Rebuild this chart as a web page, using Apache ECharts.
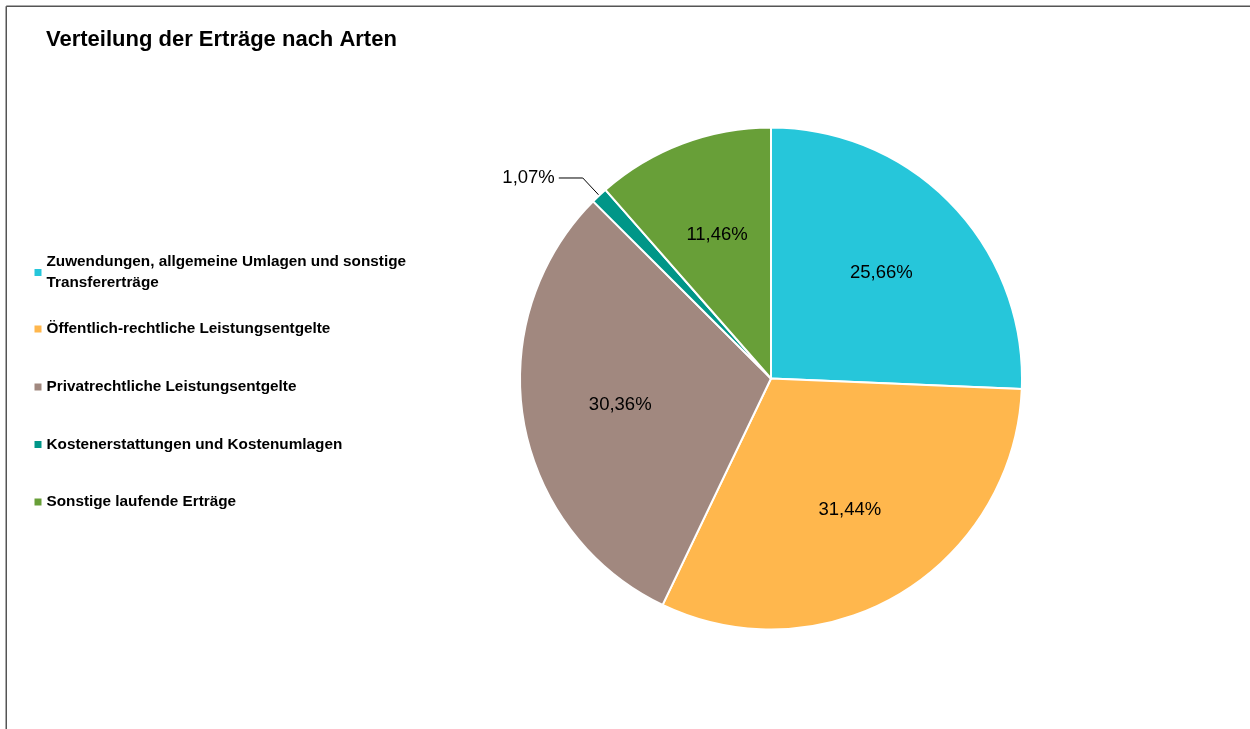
<!DOCTYPE html>
<html>
<head>
<meta charset="utf-8">
<script src="https://cdn.jsdelivr.net/npm/echarts@6/dist/echarts.min.js"></script>
<style>
html,body{margin:0;padding:0;background:#fff;}
#chart{width:1250px;height:729px;}
</style>
</head>
<body>
<div id="chart"></div>
<script>
const titleText = 'Verteilung der Erträge nach Arten';
const categories = [
  'Zuwendungen, allgemeine Umlagen und sonstige\nTransfererträge',
  'Öffentlich-rechtliche Leistungsentgelte',
  'Privatrechtliche Leistungsentgelte',
  'Kostenerstattungen und Kostenumlagen',
  'Sonstige laufende Erträge'
];
const values = [25.66, 31.44, 30.36, 1.07, 11.46];
const colors = ['#26C6DA', '#FFB74D', '#A1887F', '#009688', '#689F38'];
const outsideLabelIndex = 3;

const fmt = v => v.toFixed(2).replace('.', ',') + '%';
const legendTops = [241, 318.5, 376.5, 434, 491.5];
const legendFont = {
  fontFamily: '"Liberation Sans", Arial, sans-serif',
  fontWeight: 'bold', fontSize: 15.3, color: '#000', lineHeight: 21
};

const chart = echarts.init(document.getElementById('chart'), null, {renderer: 'canvas'});

const mainData = categories.map((c, i) => ({
  name: c, value: values[i],
  label: {show: i === outsideLabelIndex},
  labelLine: {show: i === outsideLabelIndex}
}));
const overlayData = categories.map((c, i) => ({
  name: c, value: values[i],
  label: {show: i !== outsideLabelIndex}
}));

const option = {
  animation: false,
  color: colors,
  title: {
    text: titleText, left: 46, top: 29, padding: 0,
    textStyle: {fontFamily: '"Liberation Sans", Arial, sans-serif', fontWeight: 'bold', fontSize: 22, color: '#000'}
  },
  legend: categories.map((c, i) => ({
    data: [c], left: 34.5, top: legendTops[i], padding: 0, orient: 'vertical',
    icon: 'rect', itemWidth: 7, itemHeight: 7, selectedMode: false,
    itemStyle: {borderWidth: 0},
    textStyle: Object.assign({}, legendFont, i === 0 ? {padding: [21, 0, 0, 0]} : {})
  })),
  graphic: [
    {type: 'line', shape: {x1: 6.25, y1: 6.25, x2: 1250, y2: 6.25}, style: {stroke: '#555', lineWidth: 1.5}, silent: true},
    {type: 'line', shape: {x1: 6.25, y1: 6.25, x2: 6.25, y2: 729}, style: {stroke: '#555', lineWidth: 1.5}, silent: true}
  ],
  series: [
    {
      type: 'pie', name: 'main', center: [771, 378.5], radius: [0, 251],
      startAngle: 90, clockwise: true, avoidLabelOverlap: false, minShowLabelAngle: 0,
      itemStyle: {borderColor: '#fff', borderWidth: 2},
      emphasis: {disabled: true},
      label: {position: 'outside', formatter: p => fmt(p.value), padding: [0, 0, 6, 0],
        fontFamily: '"Liberation Sans", Arial, sans-serif', fontSize: 18.5, color: '#000', distanceToLabelLine: 4},
      labelLine: {length: 24, length2: 24, lineStyle: {color: '#000', width: 1}},
      data: mainData
    },
    {
      type: 'pie', name: 'labels', center: [771, 378.5], radius: [0, 300],
      startAngle: 90, clockwise: true, avoidLabelOverlap: false, silent: true, z: 3,
      itemStyle: {color: 'transparent', borderWidth: 0},
      emphasis: {disabled: true},
      label: {position: 'inside', formatter: p => fmt(p.value),
        fontFamily: '"Liberation Sans", Arial, sans-serif', fontSize: 18.5, color: '#000'},
      labelLine: {show: false},
      data: overlayData
    }
  ]
};
chart.setOption(option);
</script>
</body>
</html>
